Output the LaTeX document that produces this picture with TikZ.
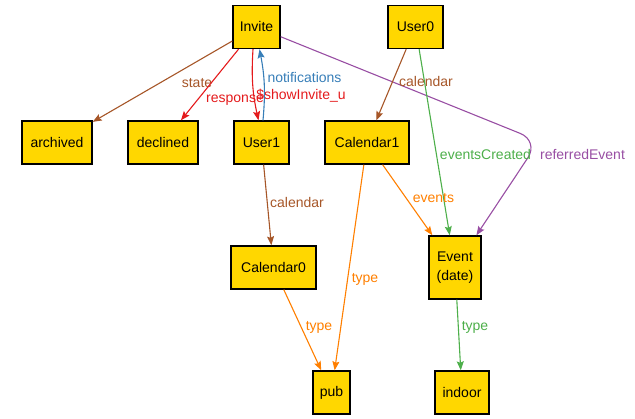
\documentclass[tikz,border=0pt]{standalone}
\usepackage{fontspec}
\setmainfont{Liberation Sans}
\usetikzlibrary{arrows.meta}
\definecolor{atomYellow}{RGB}{255, 215, 0}
\definecolor{relBrown}{RGB}{166, 86, 40}
\definecolor{relRed}{RGB}{228, 26, 28}
\definecolor{relBlue}{RGB}{55, 126, 184}
\definecolor{relGreen}{RGB}{77, 175, 74}
\definecolor{relPurple}{RGB}{152, 78, 163}
\definecolor{relOrange}{RGB}{255, 127, 0}

\begin{document}
\begin{tikzpicture}[x=1pt, y=-1pt, >={Stealth[length=9pt, width=7pt, inset=1.5pt]}]
            \tikzstyle{atombox} = [rectangle, draw=black, fill=atomYellow, line width=1.4pt, minimum height=43pt, inner sep=0pt, font=\fontsize{14}{19}\selectfont, align=center]
            \tikzstyle{rel} = [->, line width=1.1pt]
            \tikzstyle{rellabel} = [font=\fontsize{14}{17}\selectfont, inner sep=0pt]
            \useasboundingbox (0,0) rectangle (635,419);

            \node[atombox, minimum width=47pt] (invite) at (256.5, 27) {Invite};
            \node[atombox, minimum width=55pt] (user0) at (415.5, 27) {User0};
            \node[atombox, minimum width=70pt] (archived) at (57, 142.5) {archived};
            \node[atombox, minimum width=70pt] (declined) at (163, 142.5) {declined};
            \node[atombox, minimum width=55pt] (user1) at (261.5, 142.5) {User1};
            \node[atombox, minimum width=84pt] (calendar1) at (367, 142.5) {Calendar1};
            \node[atombox, minimum width=85pt] (calendar0) at (273.5, 267.5) {Calendar0};
            \node[atombox, minimum width=52pt, minimum height=63pt] (event) at (455, 267.5) {Event\\(date)};
            \node[atombox, minimum width=37pt] (pub) at (331.5, 392.5) {pub};
            \node[atombox, minimum width=54pt] (indoor) at (462, 392.5) {indoor};

            \draw[rel, relBrown] (invite) -- (archived) node[rellabel] at (197, 83) {state};
            \draw[rel, relRed] (invite) -- (declined) node[rellabel] at (235, 100) {response};
            \draw[rel, relRed] ([xshift=-3.5pt]invite.south) to[bend right=8] ([xshift=-3pt]user1.north) node[rellabel] at (301, 96) {\$showInvite\_u};
            \draw[rel, relBlue] ([xshift=1.5pt]user1.north) to[bend right=8] ([xshift=3pt]invite.south) node[rellabel] at (304.5, 77) {notifications};
            \draw[rel, relPurple, rounded corners=20pt] (invite) -- (539, 141) -- (event) node[rellabel] at (582.5, 154) {referredEvent};
            \draw[rel, relBrown] (user0) -- (calendar1) node[rellabel] at (426, 82) {calendar};
            \draw[rel, relGreen] (user0) -- (event) node[rellabel] at (485.5, 154) {eventsCreated};
            \draw[rel, relOrange] (calendar1) -- (event) node[rellabel] at (433.5, 198) {events};
            \draw[rel, relOrange] (calendar1) -- (pub) node[rellabel] at (365, 279) {type};
            \draw[rel, relBrown] (user1) -- (calendar0) node[rellabel] at (297, 202) {calendar};
            \draw[rel, relOrange] (calendar0) -- (pub) node[rellabel] at (319, 327) {type};
            \draw[rel, relGreen] (event) -- (indoor) node[rellabel] at (475, 327) {type};
        \end{tikzpicture}
\end{document}
